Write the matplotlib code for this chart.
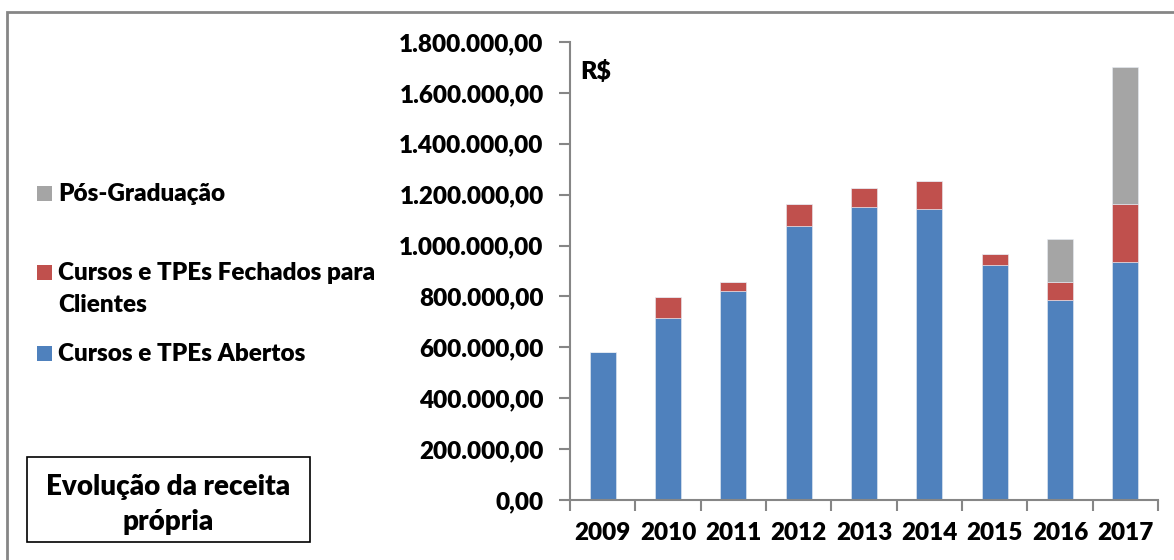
import numpy as np
import matplotlib.pyplot as plt
from matplotlib.patches import Rectangle

# data (R$)
years = ['2009', '2010', '2011', '2012', '2013', '2014', '2015', '2016', '2017']
abertos = [581000, 717000, 822000, 1078000, 1150000, 1142000, 925000, 785000, 934000]
fechados = [0, 79000, 36000, 86000, 75000, 113000, 43000, 70000, 230000]
pos_grad = [0, 0, 0, 0, 0, 0, 0, 170000, 539000]

series_names = ['Cursos e TPEs Abertos', 'Cursos e TPEs Fechados para Clientes', 'Pós-Graduação']
colors = ['#4F81BD', '#C0504D', '#A5A5A5']
yticks = [0, 200000, 400000, 600000, 800000, 1000000, 1200000, 1400000, 1600000, 1800000]

plt.rcParams['font.family'] = ['Lato', 'DejaVu Sans']
WT = 'heavy'

W, H = 1174, 560
fig = plt.figure(figsize=(W / 100, H / 100), dpi=100)
ax = fig.add_axes([570 / W, (H - 500) / H, (1158 - 570) / W, (500 - 42) / H])


def fx(px):
    return px / W


def fy(py):
    return (H - py) / H


x = np.arange(len(years))
bottom = np.zeros(len(years))
for vals, c in zip([abertos, fechados, pos_grad], colors):
    vals = np.array(vals, dtype=float)
    ax.bar(x, vals, width=0.4, bottom=bottom, color=c, edgecolor='#e8ecf4', linewidth=0.4)
    bottom += vals

ax.set_xlim(-0.5, len(years) - 0.5)
ax.set_ylim(0, 1800000)
ax.set_yticks(yticks)
ax.set_yticklabels([f'{v:,.2f}'.replace(',', 'X').replace('.', ',').replace('X', '.') for v in yticks])
ax.set_xticks(np.arange(len(years) + 1) - 0.5, minor=False)
ax.set_xticklabels([])
ax.set_xticks(x, minor=True)
ax.set_xticklabels(years, minor=True)
ax.tick_params(axis='x', which='minor', length=0, pad=16, labelsize=17.5)
ax.tick_params(axis='x', which='major', length=8, width=1.5, color='#868686')
ax.tick_params(axis='y', length=8, width=1.5, color='#868686', pad=11, labelsize=17.5)
for lab in ax.get_xticklabels(minor=True) + ax.get_yticklabels():
    lab.set_fontweight(WT)

for s in ['top', 'right']:
    ax.spines[s].set_visible(False)
for s in ['left', 'bottom']:
    ax.spines[s].set_color('#868686')
    ax.spines[s].set_linewidth(1.5)

ax.text(fx(580), fy(71), 'R$', transform=fig.transFigure, fontsize=18,
        fontweight=WT, va='center', ha='left')

# outer border of the chart area
fig.add_artist(Rectangle((fx(7), fy(600)), fx(1200), fy(12) - fy(600), transform=fig.transFigure,
                         fill=False, edgecolor='#868686', linewidth=2))

# legend
legend_rows = [(2, 194, ['Pós-Graduação']),
               (1, 273, ['Cursos e TPEs Fechados para', 'Clientes']),
               (0, 354, ['Cursos e TPEs Abertos'])]
for idx, yc, lines in legend_rows:
    fig.add_artist(Rectangle((fx(37), fy(yc + 7)), fx(15), fy(yc - 8) - fy(yc + 7),
                             transform=fig.transFigure, color=colors[idx], linewidth=0))
    for k, line in enumerate(lines):
        fig.text(fx(58), fy(yc + 32 * k), line, fontsize=17.5, fontweight=WT, va='center', ha='left')

# title box
fig.add_artist(Rectangle((fx(27), fy(542)), fx(310) - fx(27), fy(457) - fy(542),
                         transform=fig.transFigure, fill=False, edgecolor='black', linewidth=1.2))
fig.text(fx(168), fy(487), 'Evolução da receita', fontsize=20, fontweight=WT, ha='center', va='center')
fig.text(fx(168), fy(522), 'própria', fontsize=20, fontweight=WT, ha='center', va='center')

fig.savefig('out.png', dpi=100)
